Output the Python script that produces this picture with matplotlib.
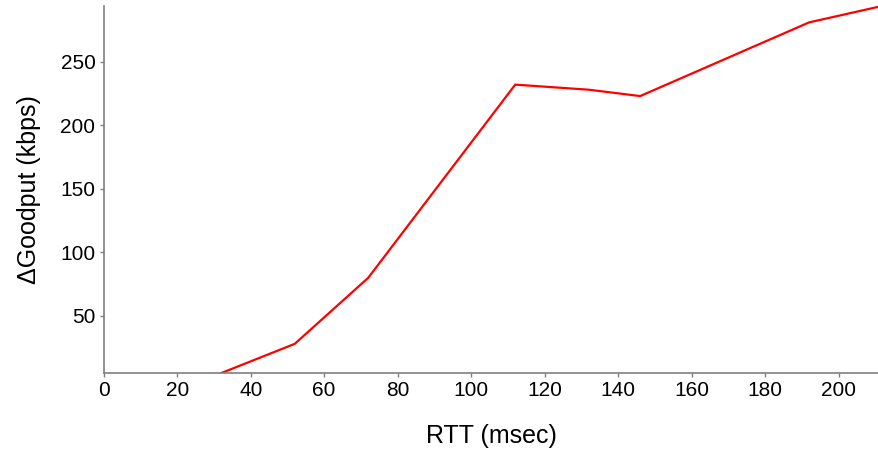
import matplotlib
import matplotlib.pyplot as plt

matplotlib.use("Agg")

plt.rcParams["font.family"] = ["Liberation Sans", "DejaVu Sans"]

rtt_ms = [32, 52, 72, 112, 132, 146, 192, 212]
delta_goodput = [5, 28, 80, 232, 228, 223, 281, 294]

x_ticks = list(range(0, 201, 20))
y_ticks = [50, 100, 150, 200, 250]

AXIS_GRAY = "#7f7f7f"

fig = plt.figure(figsize=(8.79, 4.5), dpi=100)
ax = fig.add_axes([0.118, 0.171, 0.882, 0.816])

ax.plot(rtt_ms, delta_goodput, color="#ff0000", linewidth=1.6, clip_on=True)

ax.set_xlim(0, 211)
ax.set_ylim(5, 294)
ax.set_xticks(x_ticks)
ax.set_yticks(y_ticks)

for side in ("top", "right"):
    ax.spines[side].set_visible(False)
for side in ("left", "bottom"):
    ax.spines[side].set_color(AXIS_GRAY)
    ax.spines[side].set_linewidth(1.2)

ax.tick_params(axis="both", colors=AXIS_GRAY, labelcolor="black",
               labelsize=15, length=3, width=1, pad=3)

ax.set_xlabel("RTT (msec)", fontsize=18, labelpad=17)
ax.set_ylabel("ΔGoodput (kbps)", fontsize=18, labelpad=14)

fig.savefig("out.png", dpi=100)
plt.close(fig)
